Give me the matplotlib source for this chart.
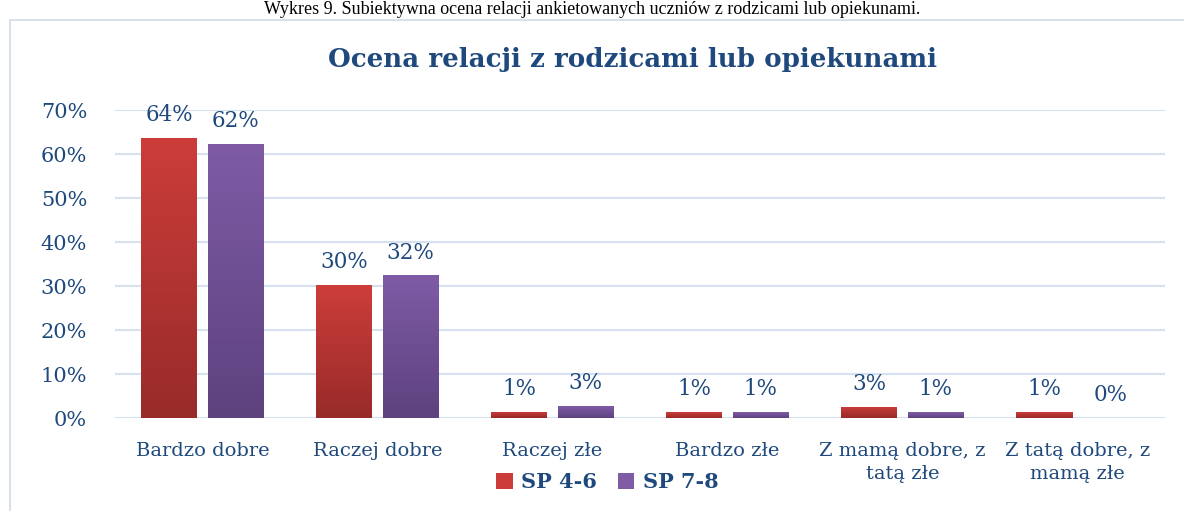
import numpy as np
import matplotlib
matplotlib.use("Agg")
import matplotlib.pyplot as plt
from matplotlib.colors import LinearSegmentedColormap
from matplotlib.patches import Patch, Rectangle

# data (share of answers)
categories = ["Bardzo dobre", "Raczej dobre", "Raczej złe", "Bardzo złe",
              "Z mamą dobre, z\ntatą złe", "Z tatą dobre, z\nmamą złe"]
sp_4_6 = [0.637, 0.302, 0.014, 0.013, 0.026, 0.013]
sp_7_8 = [0.623, 0.324, 0.027, 0.013, 0.013, 0.0]
series_names = ["SP 4-6", "SP 7-8"]
y_ticks = [0, 0.1, 0.2, 0.3, 0.4, 0.5, 0.6, 0.7]

blue = "#1F497D"
grid_col = "#D5E0F0"
plt.rcParams['font.family'] = ['DejaVu Serif']

fig = plt.figure(figsize=(11.84, 5.11), dpi=100)

# caption of the figure above the chart frame
fig.text(0.5, 1 - 9 / 511, "Wykres 9. Subiektywna ocena relacji ankietowanych uczniów z rodzicami lub opiekunami.",
         ha="center", va="center", fontsize=13, color="black", family="Liberation Serif")
# chart frame
fig.patches.append(Rectangle((10 / 1184, -0.05), 1.2, 1 - 20 / 511 + 0.05, transform=fig.transFigure,
                             fill=False, edgecolor="#D0DAE8", linewidth=1.2))

ax = fig.add_axes([115 / 1184, 1 - 418 / 511, 1050 / 1184, 308 / 511])

x = np.arange(len(categories))
width = 0.32
offset = 0.19
gradients = [("#CC3D3A", "#982B29"), ("#7F5BA6", "#5D427E")]
values = [sp_4_6, sp_7_8]

for s, (vals, (top_c, bot_c)) in enumerate(zip(values, gradients)):
    cmap = LinearSegmentedColormap.from_list("g%d" % s, [bot_c, top_c])
    xs = x + (offset if s else -offset)
    bars = ax.bar(xs, vals, width, color=top_c, zorder=2)
    for b, v in zip(bars, vals):
        if v > 0:
            img = ax.imshow(np.linspace(0, 1, 100).reshape(-1, 1), cmap=cmap, aspect="auto",
                            origin="lower", extent=(b.get_x(), b.get_x() + width, 0, v), zorder=3)
            img.set_clip_path(b)
        ax.text(b.get_x() + width / 2, v + 0.027, "{:.0f}%".format(v * 100), ha="center", va="bottom",
                fontsize=15.5, color=blue, zorder=4)

ax.set_xlim(-0.5, len(categories) - 0.5)
ax.set_ylim(0, 0.7)
ax.set_yticks(y_ticks)
ax.set_yticklabels(["{:.0f}%".format(t * 100) for t in y_ticks], fontsize=15, color=blue)
ax.set_xticks(x)
ax.set_xticklabels(categories, fontsize=14, color=blue, linespacing=1.35)
ax.tick_params(axis="both", length=0)
ax.tick_params(axis="y", pad=20)
ax.tick_params(axis="x", pad=17)
ax.grid(axis="y", color=grid_col, linewidth=1.5, zorder=0)
ax.set_axisbelow(True)
for sp in ax.spines.values():
    sp.set_visible(False)

fig.text(632 / 1184, 1 - 60 / 511, "Ocena relacji z rodzicami lub opiekunami", ha="center", va="center",
         fontsize=18.8, fontweight="bold", color=blue)

handles = [Patch(facecolor=gradients[0][0], label=series_names[0]),
           Patch(facecolor=gradients[1][0], label=series_names[1])]
fig.legend(handles=handles, loc="center", bbox_to_anchor=(607 / 1184, 1 - 482 / 511), ncol=2,
           frameon=False, prop={"weight": "bold", "size": 15},
           labelcolor=blue, handlelength=0.8, handleheight=0.8, handletextpad=0.4, columnspacing=1.0)

fig.savefig("out.png", dpi=100)
